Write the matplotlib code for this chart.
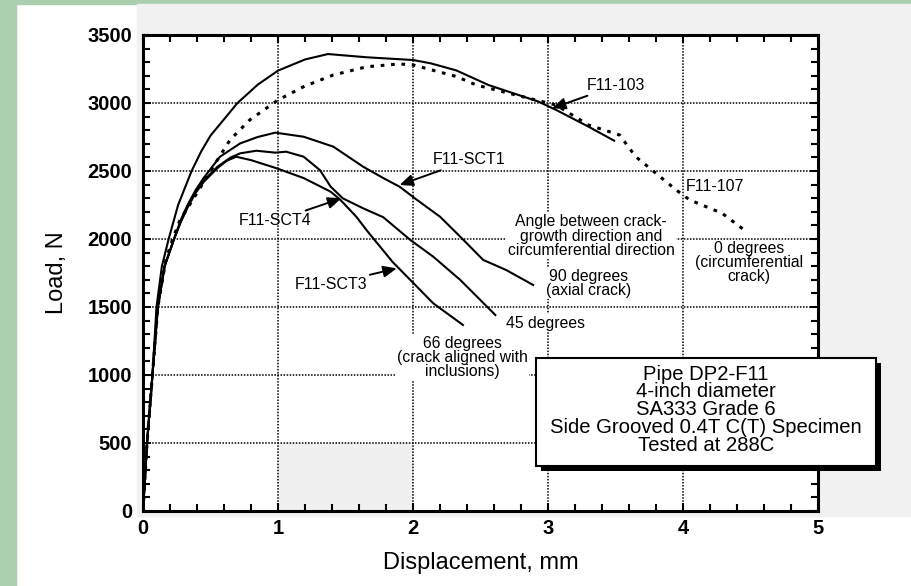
import matplotlib
matplotlib.use("Agg")
import matplotlib.pyplot as plt
from matplotlib.patches import Rectangle

plt.rcParams["font.family"] = ["Liberation Sans", "DejaVu Sans"]

# ---- data ----
f103_x = [0, 0.03, 0.07, 0.10, 0.14, 0.19, 0.26, 0.36, 0.43, 0.50, 0.60, 0.70,
          0.85, 1.00, 1.20, 1.37, 1.66, 2.00, 2.13, 2.32, 2.56, 2.93, 3.06, 3.30,
          3.49]
f103_y = [0, 500, 1000, 1500, 1800, 2000, 2250, 2500, 2642, 2760, 2880, 3000,
          3135, 3238, 3320, 3360, 3336, 3316, 3292, 3240, 3132, 3010, 2949, 2826,
          2723]

f107_x = [0, 0.03, 0.07, 0.11, 0.17, 0.22, 0.274, 0.40, 0.52, 0.644, 0.79, 1.00,
          1.20, 1.41, 1.66, 1.90, 2.00, 2.32, 2.47, 2.81, 3.06, 3.30, 3.53, 3.65,
          3.80, 3.95, 4.05, 4.29, 4.47]
f107_y = [0, 500, 1000, 1500, 1850, 2000, 2140, 2338, 2532, 2728, 2875, 3022,
          3125, 3206, 3267, 3287, 3280, 3195, 3132, 3047, 2985, 2838, 2765, 2605,
          2483, 2360, 2287, 2189, 2054]

sct1_x = [0, 0.03, 0.07, 0.11, 0.16, 0.23, 0.28, 0.33, 0.39, 0.45, 0.57, 0.72,
          0.85, 0.98, 1.19, 1.41, 1.63, 1.78, 1.90, 2.03, 2.20, 2.35, 2.52, 2.69,
          2.89]
sct1_y = [0, 500, 1000, 1500, 1800, 2000, 2140, 2250, 2360, 2450, 2605, 2703,
          2750, 2782, 2752, 2679, 2532, 2448, 2385, 2287, 2164, 2017, 1846, 1772,
          1662]

sct4_x = [0, 0.03, 0.07, 0.11, 0.16, 0.23, 0.28, 0.33, 0.39, 0.45, 0.55, 0.65,
          0.72, 0.84, 0.98, 1.06, 1.19, 1.31, 1.39, 1.48, 1.63, 1.78, 1.98, 2.15,
          2.35, 2.61]
sct4_y = [0, 500, 1000, 1500, 1800, 2000, 2130, 2240, 2345, 2430, 2530, 2600,
          2630, 2649, 2635, 2642, 2605, 2507, 2385, 2299, 2226, 2160, 1993, 1870,
          1699, 1441]

sct3_x = [0, 0.03, 0.07, 0.11, 0.16, 0.23, 0.28, 0.33, 0.39, 0.45, 0.55, 0.62,
          0.69, 0.80, 0.99, 1.19, 1.39, 1.46, 1.58, 1.66, 1.85, 1.98, 2.15, 2.37]
sct3_y = [0, 500, 1000, 1500, 1800, 2000, 2125, 2230, 2340, 2420, 2520, 2575,
          2605, 2580, 2520, 2448, 2348, 2290, 2164, 2060, 1830, 1699, 1527, 1368]

x_ticks = [0, 1, 2, 3, 4, 5]
y_ticks = [0, 500, 1000, 1500, 2000, 2500, 3000, 3500]

box_text = ("Pipe DP2-F11\n4-inch diameter\nSA333 Grade 6\n"
            "Side Grooved 0.4T C(T) Specimen\nTested at 288C")

fig = plt.figure(figsize=(9.12, 5.86), dpi=100)
fig.patch.set_facecolor("white")

# scan background: green slide border and the grey scanned page
fig.patches.append(Rectangle((0, 0), 16 / 912, 1, transform=fig.transFigure,
                             color="#a9cfae", zorder=-5))
fig.patches.append(Rectangle((0, 1 - 4 / 586), 1, 4 / 586, transform=fig.transFigure,
                             color="#a9cfae", zorder=-5))
fig.patches.append(Rectangle((137 / 912, 1 - 516 / 586), 1 - 137 / 912, 512 / 586,
                             transform=fig.transFigure, color="#f1f1f1", zorder=-5))

ax = fig.add_axes([143 / 912, 1 - 511 / 586, 675 / 912, 476 / 586])
ax.set_zorder(1)
ax.set_facecolor("white")
ax.set_xlim(0, 5)
ax.set_ylim(0, 3500)

ax.add_patch(Rectangle((1, 0), 1, 500, color="#f0f0f0", zorder=0.5, lw=0))

ax.set_xticks(x_ticks)
ax.set_yticks(y_ticks)
ax.set_xticks([v / 5 for v in range(26)], minor=True)
ax.set_yticks(list(range(0, 3501, 100)), minor=True)
ax.tick_params(which="both", direction="in", top=True, right=True, width=1.5)
ax.tick_params(which="major", length=6, labelsize=14.5)
ax.tick_params(axis="y", which="major", pad=8)
ax.tick_params(axis="x", which="major", pad=6)
ax.tick_params(which="minor", length=5)
for lab in ax.get_xticklabels() + ax.get_yticklabels():
    lab.set_fontweight("bold")
for s in ax.spines.values():
    s.set_linewidth(2.2)

ax.grid(True, which="major", color="black", linestyle=(0, (1, 1)), linewidth=1.1)

ax.plot(f103_x, f103_y, color="black", lw=1.5, zorder=3)
ax.plot(f107_x, f107_y, color="black", lw=2.2, linestyle=(0, (1.2, 2.2)), zorder=3)
ax.plot(sct1_x, sct1_y, color="black", lw=1.5, zorder=3)
ax.plot(sct4_x, sct4_y, color="black", lw=1.5, zorder=3)
ax.plot(sct3_x, sct3_y, color="black", lw=1.5, zorder=3)

ax.set_xlabel("Displacement, mm", fontsize=17, labelpad=10)
ax.set_ylabel("Load, N", fontsize=17, labelpad=14)

arrow = dict(arrowstyle="-|>,head_length=0.7,head_width=0.3", color="black",
             lw=1.4, shrinkA=0, shrinkB=0)
wbox = dict(facecolor="white", edgecolor="none", pad=1)

ax.annotate("F11-103", xy=(3.03, 2961), xytext=(3.29, 3129), fontsize=11.5,
            va="center", ha="left", arrowprops=arrow, zorder=4)
ax.annotate("F11-SCT1", xy=(1.90, 2397), xytext=(2.15, 2581), fontsize=11.5,
            va="center", ha="left", arrowprops=arrow, zorder=4)
ax.annotate("F11-SCT4", xy=(1.47, 2299), xytext=(1.25, 2134), fontsize=11.5,
            va="center", ha="right", arrowprops=arrow, zorder=4)
ax.annotate("F11-SCT3", xy=(1.88, 1784), xytext=(1.66, 1669), fontsize=11.5,
            va="center", ha="right", arrowprops=arrow, zorder=4)
ax.text(4.02, 2385, "F11-107", fontsize=11.5, va="center", ha="left",
        bbox=wbox, zorder=4)

ax.text(3.32, 2022, "Angle between crack-\ngrowth direction and\ncircumferential direction",
        fontsize=11.3, ha="center", va="center", linespacing=0.92, bbox=wbox, zorder=4)
ax.text(3.30, 1676, "90 degrees\n(axial crack)", fontsize=11.3, ha="center",
        va="center", linespacing=0.92, bbox=wbox, zorder=4)
ax.text(2.69, 1382, "45 degrees", fontsize=11.3, ha="left", va="center",
        bbox=wbox, zorder=4)
ax.text(2.365, 1132, "66 degrees\n(crack aligned with\ninclusions)", fontsize=11.3,
        ha="center", va="center", linespacing=0.92, bbox=wbox, zorder=4)
ax.text(4.49, 1827, "0 degrees\n(circumferential\ncrack)", fontsize=11.3,
        ha="center", va="center", linespacing=0.92, bbox=wbox, zorder=4)

# specimen box with drop shadow, sticking out past the right spine
ax.add_patch(Rectangle((2.95, 294), 2.52, 794, facecolor="black", edgecolor="none",
                       clip_on=False, zorder=5))
ax.add_patch(Rectangle((2.91, 331), 2.52, 794, facecolor="white", edgecolor="black",
                       lw=1.5, clip_on=False, zorder=6))
ax.text(4.17, 745, box_text, fontsize=14.6, ha="center", va="center",
        linespacing=0.92, zorder=7)

fig.savefig("out.png", dpi=100)
